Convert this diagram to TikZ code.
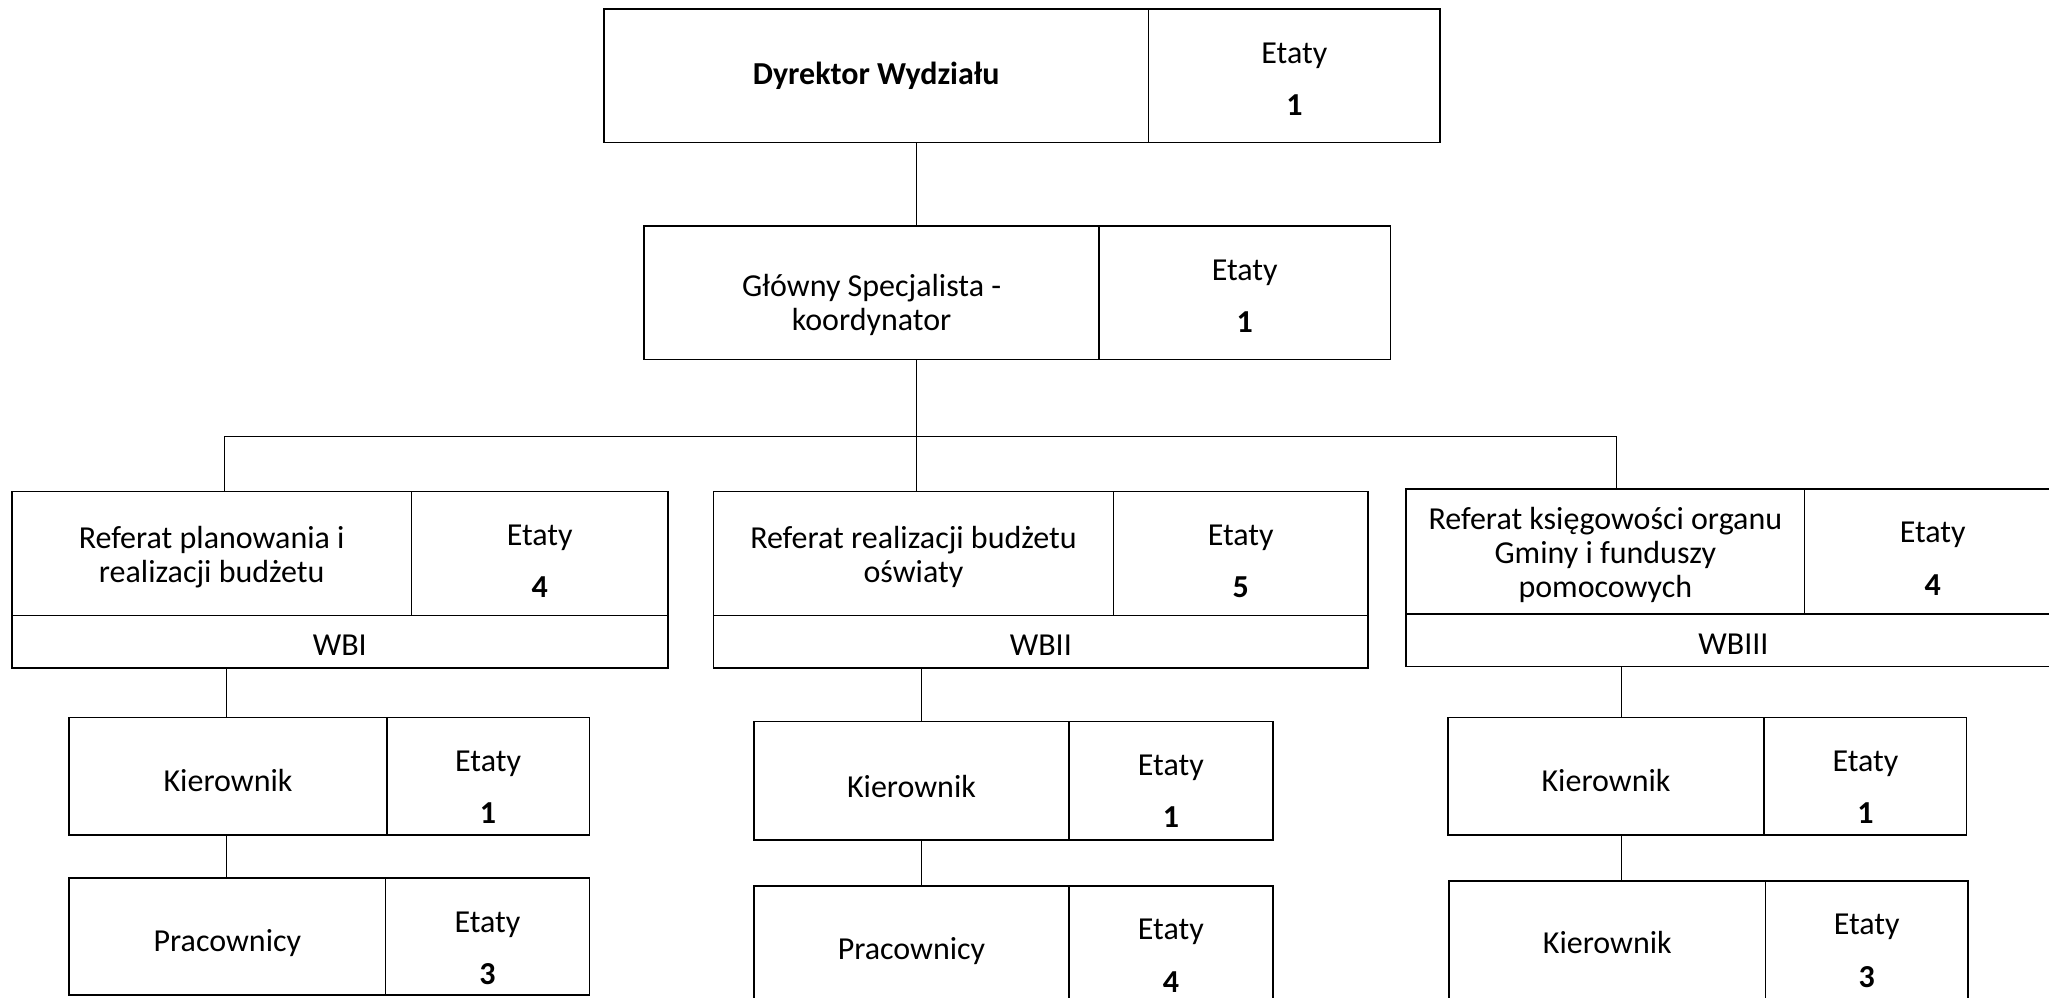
\documentclass[tikz,border=0pt]{standalone}
\usepackage{fontspec}
\setmainfont{Carlito}
\usetikzlibrary{fit,calc}
\newcommand\cellbox[7][3]{\node[cellframe, fit={(#3,#4)(#5,#6)}] (#2) {};
  \node[celltext] (#2t) at ($(#2.center)+(0,#1)$) {#7};}
\newcommand\etbox[6]{\node[cellframe, fit={(#2,#3)(#4,#5)}] (#1) {};
  \node[celltext] (#1e) at ($(#1.north)+(0,36)$) {Etaty};
  \node[celltext, font=\fontsize{16}{17}\selectfont\bfseries] (#1n) at ($(#1.north)+(0,74)$) {#6};}
\begin{document}
\begin{tikzpicture}[x=0.6534pt,y=-0.6534pt,
  cellframe/.style={draw, line width=0.8pt, inner sep=0pt},
  celltext/.style={inner sep=0pt, align=center, font=\fontsize{16}{17}\selectfont},
  conn/.style={line width=0.5pt}]
\fill[white] (0,0) rectangle (1568,763);
\useasboundingbox (0,0) rectangle (1568,763);
% top
\cellbox[0]{dname}{462}{7}{879}{109}{\textbf{Dyrektor Wydziału}}
\etbox{detaty}{879}{7}{1102}{109}{1}
\cellbox[9]{gname}{493}{173}{841}{275}{Główny Specjalista -\\koordynator}
\etbox{getaty}{841}{173}{1064}{275}{1}
% departments
\cellbox{bIname}{9}{376}{315}{471}{Referat planowania i\\realizacji budżetu}
\etbox{bIetaty}{315}{376}{511}{471}{4}
\cellbox{bIcode}{9}{471}{511}{511}{WBI}
\cellbox{bIIname}{546}{376}{852}{471}{Referat realizacji budżetu\\oświaty}
\etbox{bIIetaty}{852}{376}{1047}{471}{5}
\cellbox{bIIcode}{546}{471}{1047}{511}{WBII}
\cellbox{bIIIname}{1076}{374}{1381}{470}{Referat księgowości organu\\Gminy i funduszy\\pomocowych}
\etbox{bIIIetaty}{1381}{374}{1577}{470}{4}
\cellbox{bIIIcode}{1076}{470}{1577}{510}{WBIII}
% column 1
\cellbox{kIname}{53}{549}{296}{639}{Kierownik}
\etbox{kIetaty}{296}{549}{451}{639}{1}
\cellbox[5]{pIname}{53}{672}{295}{761.5}{Pracownicy}
\etbox{pIetaty}{295}{672}{451}{761.5}{3}
% column 2
\cellbox[4]{kIIname}{577}{552}{818}{643}{Kierownik}
\etbox{kIIetaty}{818}{552}{974}{643}{1}
\cellbox{pIIname}{577}{678}{818}{772}{Pracownicy}
\etbox{pIIetaty}{818}{678}{974}{772}{4}
% column 3
\cellbox{kIIIname}{1108}{549}{1350}{639}{Kierownik}
\etbox{kIIIetaty}{1350}{549}{1505}{639}{1}
\cellbox[1]{kIVname}{1109}{674}{1351}{766}{Kierownik}
\etbox{kIVetaty}{1351}{674}{1506}{766}{3}
% connectors
\coordinate (busl) at (172,334);
\coordinate (busm) at (701,334);
\coordinate (busr) at (1237,334);
\coordinate (cI) at (173,0);
\coordinate (cII) at (705,0);
\coordinate (cIII) at (1241,0);
\draw[conn] (dname.south -| busm) -- (gname.north -| busm);
\draw[conn] (gname.south -| busm) -- (busm);
\draw[conn] (busl) -- (busr);
\draw[conn] (busl) -- (busl |- bIname.north);
\draw[conn] (busm) -- (busm |- bIIname.north);
\draw[conn] (busr) -- (busr |- bIIIname.north);
\draw[conn] (bIcode.south -| cI) -- (kIname.north -| cI);
\draw[conn] (kIname.south -| cI) -- (pIname.north -| cI);
\draw[conn] (bIIcode.south -| cII) -- (kIIname.north -| cII);
\draw[conn] (kIIname.south -| cII) -- (pIIname.north -| cII);
\draw[conn] (bIIIcode.south -| cIII) -- (kIIIname.north -| cIII);
\draw[conn] (kIIIname.south -| cIII) -- (kIVname.north -| cIII);
\end{tikzpicture}
\end{document}
